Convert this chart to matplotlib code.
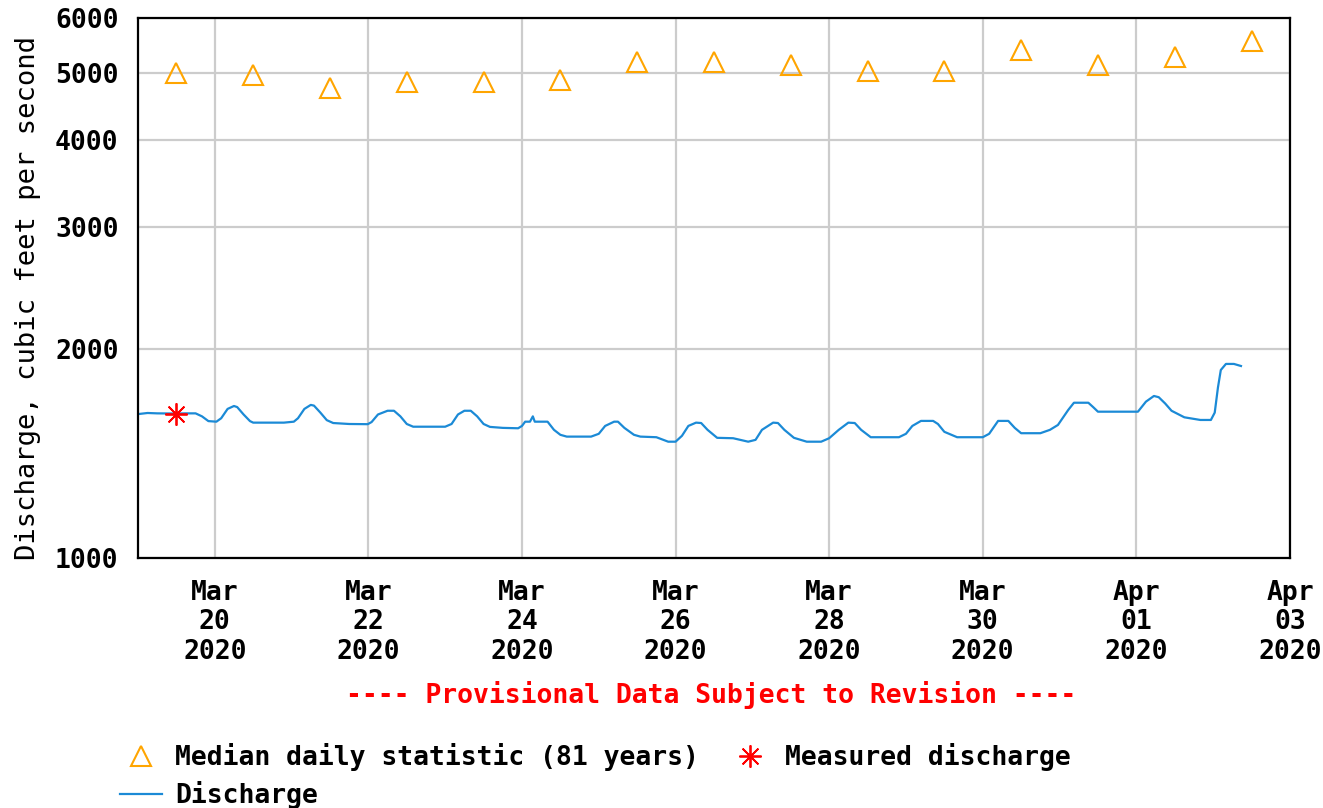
import matplotlib
matplotlib.use("Agg")
import matplotlib.pyplot as plt
import matplotlib.dates as mdates
import matplotlib.ticker as mticker
import pandas as pd

# discharge, hours after 2020-03-19 00:00 and cubic feet per second
start = pd.Timestamp("2020-03-19 00:00")
q_hours = [0, 3, 6, 12, 15, 18, 20, 22, 24.5, 26, 28, 30, 31, 33, 35, 36, 42, 45.6,
           48.7, 50, 52, 54, 55, 57, 59, 61, 66, 71.8, 73, 75, 78, 80, 82, 84, 86, 96,
           98, 100, 102, 104, 106, 108, 110, 114, 118.8, 120, 121, 122.5, 123.4, 124,
           128, 130, 132, 134, 141.6, 144, 146, 148.8, 150, 152, 155, 157, 162, 165.7,
           168, 170, 172, 174.4, 176, 178, 181, 186, 190.7, 193, 195, 198.5, 200, 202,
           205, 209, 213.5, 216, 219, 222, 224, 226, 229, 237.8, 240, 242, 244.7,
           248.5, 250, 252, 256, 264, 266, 268.8, 272, 274, 276, 282, 285, 287.5,
           290.7, 292.5, 297, 298.5, 300, 312.5, 315, 317.5, 319, 321, 323, 327, 332,
           335.3, 336.5, 337.5, 338.4, 340, 342.5, 344.7]
q_cfs = [1612, 1618, 1616, 1615, 1616, 1616, 1600, 1575, 1572, 1590, 1640, 1656, 1650,
         1610, 1575, 1567, 1567, 1567, 1572, 1590, 1640, 1662, 1658, 1620, 1580, 1565,
         1560, 1559, 1570, 1610, 1630, 1630, 1600, 1560, 1546, 1546, 1560, 1610, 1630,
         1630, 1600, 1560, 1545, 1540, 1538, 1550, 1572, 1572, 1600, 1572, 1572, 1530,
         1505, 1496, 1496, 1510, 1550, 1572, 1572, 1540, 1505, 1496, 1493, 1471, 1471,
         1500, 1550, 1567, 1565, 1530, 1490, 1488, 1471, 1480, 1530, 1567, 1565, 1530,
         1490, 1471, 1471, 1488, 1530, 1567, 1565, 1530, 1493, 1493, 1510, 1550, 1576,
         1576, 1560, 1520, 1493, 1493, 1510, 1576, 1576, 1540, 1513, 1513, 1530, 1555,
         1634, 1674, 1674, 1650, 1625, 1625, 1680, 1712, 1705, 1670, 1630, 1595, 1581,
         1581, 1620, 1760, 1866, 1904, 1904, 1891]

# median daily statistic (81 years), plotted at noon
median_days = pd.date_range("2020-03-19 12:00", "2020-04-02 12:00", freq="D")
median_cfs = [5000, 4960, 4760, 4850, 4850, 4880, 5180, 5180, 5130, 5030, 5030,
              5390, 5130, 5270, 5560]

measured_time = [pd.Timestamp("2020-03-19 12:00")]
measured_cfs = [1612]

tick_days = pd.date_range("2020-03-20", "2020-04-03", freq="2D")
y_ticks = [1000, 2000, 3000, 4000, 5000, 6000]

q_time = [start + pd.Timedelta(hours=h) for h in q_hours]

plt.rcParams["font.family"] = ["DejaVu Sans Mono"]
plt.rcParams["font.weight"] = "bold"
fs = 19

fig = plt.figure(figsize=(13.23, 8.08), dpi=100)
ax = fig.add_axes([0.1043, 0.3094, 0.8707, 0.6683])

line, = ax.plot(q_time, q_cfs, color="#1b8ad6", lw=1.6, label="Discharge")
tri, = ax.plot(median_days, median_cfs, ls="none", marker="^", ms=15, mfc="none",
               mec="#ffa500", mew=1.5, label="Median daily statistic (81 years)")
star, = ax.plot(measured_time, measured_cfs, ls="none", marker=(8, 2, 0), ms=16,
                color="red", mew=1.3, label="Measured discharge")

ax.set_yscale("log")
ax.set_ylim(1000, 6000)
ax.set_xlim(start, pd.Timestamp("2020-04-03"))
ax.yaxis.set_major_locator(mticker.FixedLocator(y_ticks))
ax.yaxis.set_major_formatter(mticker.FixedFormatter([str(v) for v in y_ticks]))
ax.yaxis.set_minor_locator(mticker.NullLocator())
ax.set_xticks(tick_days)
ax.xaxis.set_major_formatter(mdates.DateFormatter("%b\n%d\n%Y"))
ax.tick_params(length=0, labelsize=fs)
ax.tick_params(axis="x", pad=16)
ax.tick_params(axis="y", pad=14)
for lab in ax.get_xticklabels():
    lab.set_linespacing(1.16)
ax.grid(True, color="#cccccc", lw=1.6)
ax.set_axisbelow(True)
for s in ax.spines.values():
    s.set_linewidth(1.6)
ax.set_ylabel("Discharge, cubic feet per second", fontsize=19.5)
ax.yaxis.set_label_coords(-0.0842, 0.481)

fig.text(0.5374, 0.14, "---- Provisional Data Subject to Revision ----",
         color="red", fontsize=fs, ha="center", va="center")

fig.legend(handles=[tri, line, star], ncol=2, frameon=False, fontsize=fs,
           loc="upper left", bbox_to_anchor=(0.0907, 0.080), borderpad=0,
           borderaxespad=0, handlelength=1.6, handletextpad=0.5,
           columnspacing=1.14, labelspacing=0.38)

fig.savefig("out.png", dpi=100)
